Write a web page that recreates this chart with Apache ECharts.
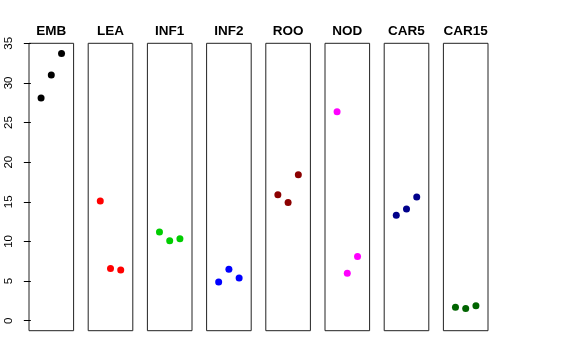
<!DOCTYPE html>
<html>
<head>
<meta charset="utf-8">
<script src="https://cdn.jsdelivr.net/npm/echarts@6/dist/echarts.min.js"></script>
<style>
html,body{margin:0;padding:0;background:#fff;}
#chart{width:576px;height:360px;}
</style>
</head>
<body>
<div id="chart"></div>
<script>
// Data
const panels = ["EMB", "LEA", "INF1", "INF2", "ROO", "NOD", "CAR5", "CAR15"];
const positions = [1, 2, 3];
const EMB = [28.1, 31.0, 33.7];
const LEA = [15.1, 6.6, 6.4];
const INF1 = [11.2, 10.1, 10.35];
const INF2 = [4.9, 6.5, 5.4];
const ROO = [15.9, 14.9, 18.4];
const NOD = [26.35, 6.0, 8.1];
const CAR5 = [13.3, 14.1, 15.6];
const CAR15 = [1.7, 1.55, 1.9];
const yTicks = [0, 5, 10, 15, 20, 25, 30, 35];
const colors = ["#000000", "#FF0000", "#00CD00", "#0000FF", "#8B0000", "#FF00FF", "#00008B", "#006400"];

const values = [EMB, LEA, INF1, INF2, ROO, NOD, CAR5, CAR15];

const gridLeft0 = 29, gridStep = 59.2, gridW = 44.6, gridTop = 43.3, gridBottom = 29.3;
const font = "Liberation Sans, Arial, Helvetica, sans-serif";

const grids = [], xAxes = [], yAxes = [], series = [];
panels.forEach((name, i) => {
  grids.push({
    left: gridLeft0 + i * gridStep, top: gridTop, width: gridW, bottom: gridBottom,
    show: true, borderColor: "#222", borderWidth: 1, backgroundColor: "transparent"
  });
  xAxes.push({
    gridIndex: i, type: "value", min: -0.18, max: 4.18, position: "top",
    name: name, nameLocation: "middle", nameGap: 5,
    nameTextStyle: { fontFamily: font, fontWeight: "bold", fontSize: 13.5, color: "#000" },
    axisLine: { show: false }, axisTick: { show: false }, axisLabel: { show: false },
    splitLine: { show: false }
  });
  yAxes.push({
    gridIndex: i, type: "value", min: -1.26, max: 35,
    axisLine: { show: false },
    axisTick: { show: i === 0, length: 7, lineStyle: { color: "#000" }, customValues: yTicks },
    axisLabel: { show: i === 0, rotate: 90, margin: 14, fontFamily: font, fontSize: 11.5, color: "#000", customValues: yTicks },
    splitLine: { show: false }
  });
  series.push({
    type: "scatter", xAxisIndex: i, yAxisIndex: i,
    data: positions.map((p, k) => [p, values[i][k]]),
    symbol: "circle", symbolSize: 7,
    itemStyle: { color: colors[i], opacity: 1 },
    silent: true, animation: false
  });
});

const chart = echarts.init(document.getElementById("chart"), null, { renderer: "canvas" });
chart.setOption({
  animation: false,
  backgroundColor: "#fff",
  grid: grids, xAxis: xAxes, yAxis: yAxes, series: series
});
</script>
</body>
</html>
